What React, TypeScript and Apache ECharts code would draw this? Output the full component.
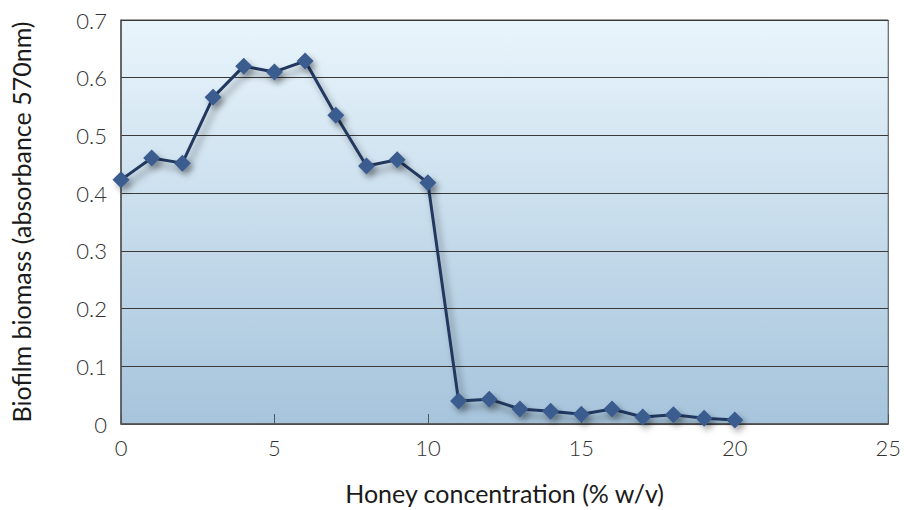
import React, { useEffect, useRef } from "react";
import * as echarts from "echarts";

const concentrations = [0, 1, 2, 3, 4, 5, 6, 7, 8, 9, 10, 11, 12, 13, 14, 15, 16, 17, 18, 19, 20];
const biomass = [0.423, 0.461, 0.452, 0.566, 0.62, 0.61, 0.629, 0.535, 0.447, 0.458, 0.418, 0.04, 0.043, 0.026, 0.022, 0.017, 0.026, 0.012, 0.016, 0.01, 0.007];
const xTitle = "Honey concentration (% w/v)";
const yTitle = "Biofilm biomass (absorbance 570nm)";

export default function App() {
  const ref = useRef<HTMLDivElement>(null);
  useEffect(() => {
    if (!ref.current) return;
    const chart = echarts.init(ref.current, null, { renderer: "svg" });
    const font = "Lato, 'Open Sans', sans-serif";
    chart.setOption({
      animation: false,
      grid: {
        left: 120,
        right: 14,
        top: 20,
        bottom: 85,
        show: true,
        borderColor: "#444",
        borderWidth: 1,
        backgroundColor: new echarts.graphic.LinearGradient(0, 0, 0, 1, [
          { offset: 0, color: "#e9f5fc" },
          { offset: 1, color: "#a6c4dc" },
        ]),
      },
      xAxis: {
        type: "value",
        min: 0,
        max: 25,
        interval: 5,
        name: xTitle,
        nameLocation: "middle",
        nameGap: 56,
        nameTextStyle: { fontSize: 25, color: "#1a1a1a", fontFamily: font },
        axisLine: { show: true, lineStyle: { color: "#555", width: 1.5 } },
        axisTick: { show: true, inside: true, length: 10, lineStyle: { color: "#555" } },
        axisLabel: { fontSize: 22, color: "#333", fontFamily: font, fontWeight: 300, margin: 12 },
        splitLine: { show: false },
      },
      yAxis: {
        type: "value",
        min: 0,
        max: 0.7,
        interval: 0.1,
        name: yTitle,
        nameLocation: "middle",
        nameGap: 88,
        nameTextStyle: { fontSize: 25, color: "#1a1a1a", fontFamily: font },
        axisLine: { show: true, lineStyle: { color: "#555", width: 1.5 } },
        axisTick: { show: false },
        axisLabel: { fontSize: 22, color: "#333", fontFamily: font, fontWeight: 300, margin: 14 },
        splitLine: { show: true, lineStyle: { color: "#3a3a3a", width: 1 } },
      },
      series: [
        {
          type: "line",
          data: concentrations.map((c, i) => [c, biomass[i]]),
          symbol: "diamond",
          symbolSize: 17,
          itemStyle: { color: "#3a5b8e", shadowColor: "rgba(0,0,0,0.35)", shadowBlur: 6, shadowOffsetX: 3, shadowOffsetY: 4 },
          lineStyle: { color: "#22395e", width: 3, shadowColor: "rgba(0,0,0,0.4)", shadowBlur: 7, shadowOffsetX: 4, shadowOffsetY: 6 },
        },
      ],
    });
    return () => chart.dispose();
  }, []);
  return <div ref={ref} style={{ width: 904, height: 510, position: "absolute", left: 0, top: 0 }} />;
}
